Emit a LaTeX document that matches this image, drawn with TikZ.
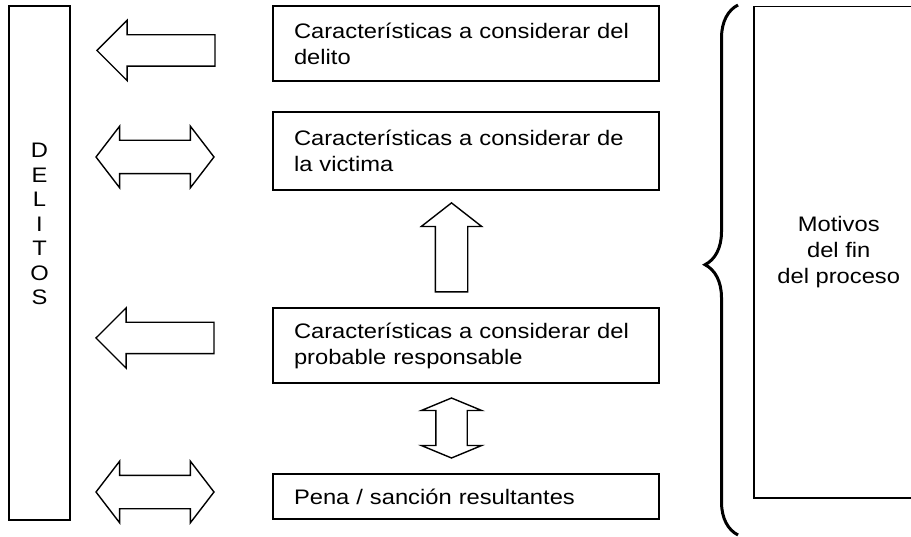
\documentclass[tikz,border=0pt]{standalone}
\usepackage{fontspec}
\setmainfont{Liberation Sans}[FakeStretch=1.13]
\usetikzlibrary{shapes.arrows,decorations.pathreplacing}

\tikzset{
  texto/.style={font=\fontsize{21}{26}\selectfont},
  caja/.style={draw, line width=1.5pt, texto, align=left, text width=344pt,
    inner xsep=21pt, inner ysep=0pt, minimum width=386pt},
  marco/.style={draw, line width=1.5pt, inner sep=0pt},
  flecha/.style={draw, line width=1.4pt, inner sep=15pt},
  izq/.style={flecha, single arrow, single arrow head extend=14.5pt,
    single arrow tip angle=90, minimum height=118pt, shape border rotate=180, anchor=tip},
  doble/.style={flecha, inner sep=16pt, double arrow, double arrow head extend=14pt,
    double arrow tip angle=105, minimum height=118pt}
}

\begin{document}
\begin{tikzpicture}[x=1pt,y=-1pt]
  \useasboundingbox (0,0) rectangle (911,537);
  % columna de delitos
  \node[marco, minimum width=61pt, minimum height=514pt] (delitos) at (39.5,263) {};
  \node[font=\fontsize{21}{24.5}\selectfont, align=center] (letras)
    at ([yshift=39pt]delitos.center) {D\\E\\L\\I\\T\\O\\S};
  % cajas centrales
  \node[caja, minimum height=75pt] (delito) at (466,43.5)
    {Características a considerar del\\delito};
  \node[caja, minimum height=78pt] (victima) at (466,151)
    {Características a considerar de\\la victima};
  \node[caja, minimum height=75pt] (responsable) at (466,345.5)
    {Características a considerar del\\probable responsable};
  \node[caja, minimum height=45pt] (pena) at (466,496.5)
    {Pena / sanción resultantes};
  % flechas
  \node[izq] (f1) at (96,50.5) {};
  \node[doble] (f2) at (155,157) {};
  \node[izq] (f3) at (95,338) {};
  \node[doble] (f4) at (155,492) {};
  \node[flecha, inner sep=15.5pt, single arrow, single arrow head extend=14pt,
    single arrow tip angle=104, minimum height=89pt, shape border rotate=90,
    anchor=tip] (f5) at (451.5,202) {};
  \node[flecha, inner xsep=15pt, inner ysep=5pt, double arrow, double arrow head extend=14.5pt,
    double arrow tip angle=135, minimum height=60pt, shape border rotate=90] (f6) at (451.5,428) {};
  % llave y motivos
  \draw[line width=3pt, decorate, decoration={brace, amplitude=33pt, aspect=0.51}]
    (738,535) -- (738,5);
  \node[marco, texto, align=center, minimum width=170pt, minimum height=491pt,
    anchor=north west] (motivos) at (753,6) {Motivos\\del fin\\del proceso};
\end{tikzpicture}
\end{document}
